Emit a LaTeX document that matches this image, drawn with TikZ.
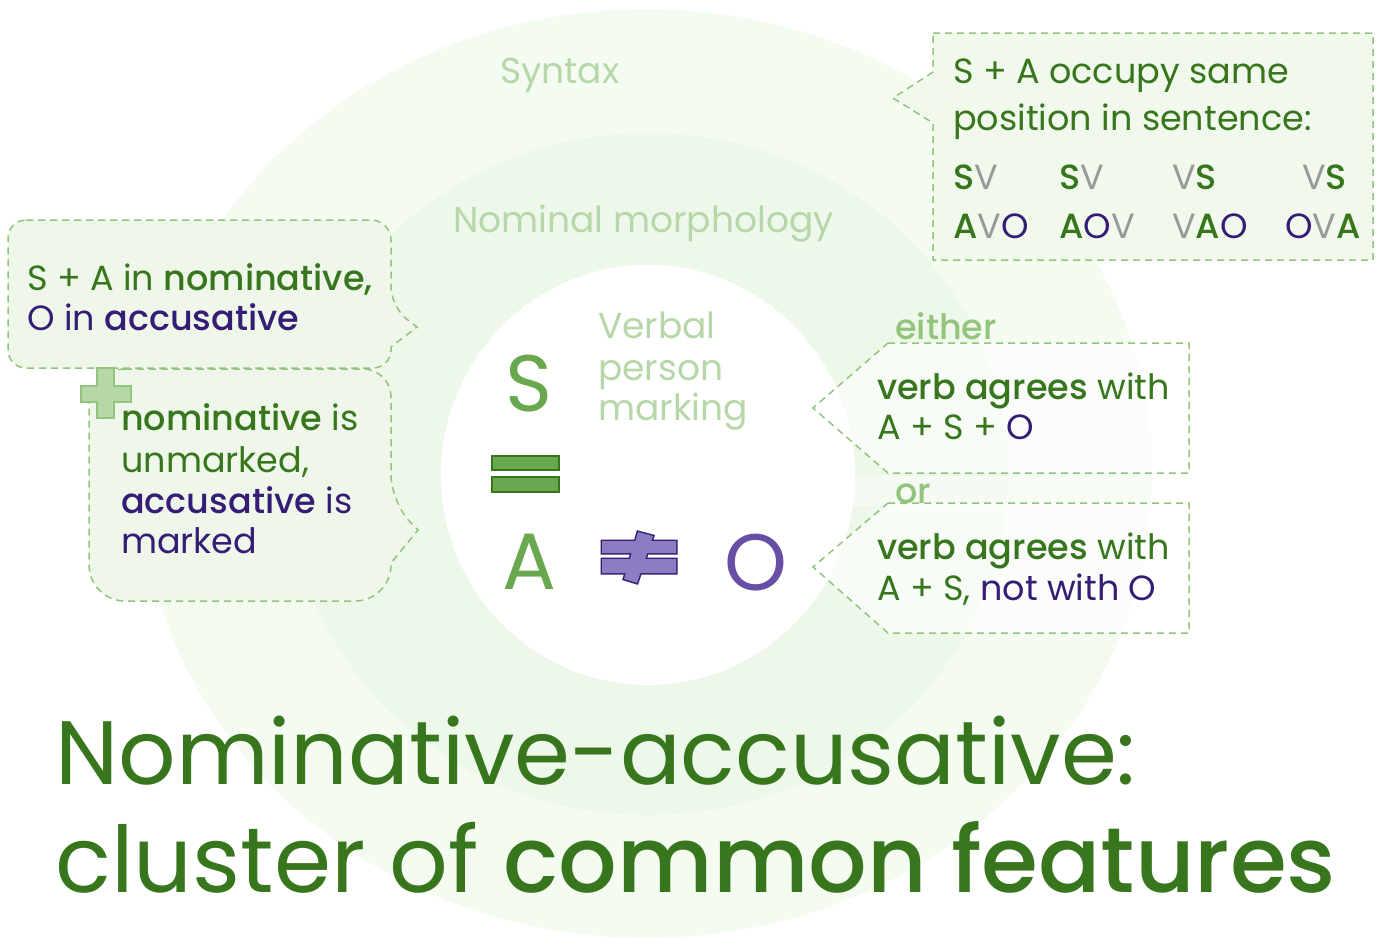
\documentclass[tikz,border=0pt]{standalone}
\usepackage{fontspec}
\setmainfont{Poppins}[BoldFont={* Medium}]
\definecolor{dkgreen}{HTML}{38761D}
\definecolor{purp}{HTML}{351C75}
\definecolor{greyv}{HTML}{999999}
\definecolor{midgreen}{HTML}{6AA84F}
\definecolor{ltgreen}{HTML}{B6D7A8}
\definecolor{dashgreen}{HTML}{93C47D}
\definecolor{opurp}{HTML}{674EA7}
\definecolor{nepurp}{HTML}{8E7CC3}
\definecolor{outerc}{HTML}{F4FBF1}
\definecolor{midc}{HTML}{EEF8EA}
\definecolor{boxfill}{HTML}{EEF7E9}
\definecolor{trfill}{HTML}{F1F9ED}
\begin{document}
\begin{tikzpicture}[x=1pt,y=-1pt,
  txt/.style={anchor=base west, inner sep=0pt, font=\fontsize{35}{41}\selectfont},
  lbl/.style={anchor=base west, inner sep=0pt, font=\fontsize{36}{41}\selectfont, text=ltgreen},
  big/.style={anchor=base, inner sep=0pt, font=\fontsize{80}{80}\selectfont},
  title/.style={anchor=base west, inner sep=0pt, font=\fontsize{90}{108}\selectfont, text=dkgreen},
  boxline/.style={draw=dashgreen, line width=1.5pt, dash pattern=on 7pt off 5pt}]
\useasboundingbox (0,0) rectangle (1378,948);
% background circles
\fill[outerc] (646,473.5) ellipse [x radius=506, y radius=464.5];
\fill[midc] (648,474) ellipse [x radius=360, y radius=341];
\fill[white] (648,475) ellipse [x radius=207, y radius=210];
% sphere labels
\node[lbl] (syntax) at (500,83) {Syntax};
\node[lbl] (nommorph) at (453,232) {Nominal morphology};
\node[lbl] (verbal) at (598,338) {Verbal};
\node[lbl] (person) at (598,380) {person};
\node[lbl] (marking) at (598,420) {marking};
% top-right box
\path[boxline, fill=trfill] (933,33) -- (1373,33) -- (1373,260) -- (933,260) -- (933,123) -- (893,98) -- (933,72) -- cycle;
\node[txt, text=dkgreen] (tr1) at (953,83) {S + A occupy same};
\node[txt, text=dkgreen] (tr2) at (953,130) {position in sentence:};
\node[txt] (c1a) at (953,189) {\textcolor{dkgreen}{\bfseries S}\textcolor{greyv}{V}};
\node[txt] (c2a) at (1059,189) {\textcolor{dkgreen}{\bfseries S}\textcolor{greyv}{V}};
\node[txt] (c3a) at (1172,189) {\textcolor{greyv}{V}\textcolor{dkgreen}{\bfseries S}};
\node[txt] (c4a) at (1302,189) {\textcolor{greyv}{V}\textcolor{dkgreen}{\bfseries S}};
\node[txt] (c1b) at (953,238) {\textcolor{dkgreen}{\bfseries A}\textcolor{greyv}{V}\textcolor{purp}{O}};
\node[txt] (c2b) at (1059,238) {\textcolor{dkgreen}{\bfseries A}\textcolor{purp}{O}\textcolor{greyv}{V}};
\node[txt] (c3b) at (1172,238) {\textcolor{greyv}{V}\textcolor{dkgreen}{\bfseries A}\textcolor{purp}{O}};
\node[txt] (c4b) at (1285,238) {\textcolor{purp}{O}\textcolor{greyv}{V}\textcolor{dkgreen}{\bfseries A}};
% left box 1
\path[boxline, fill=boxfill, rounded corners=20pt] (8,220) -- (391,220) -- (391,307) [sharp corners] -- (417,327) -- (391,347) [rounded corners=18pt] -- (391,368) -- (8,368) -- cycle;
% left box 2
\path[boxline, fill=boxfill, rounded corners=28pt] (89,369) -- (391,369) -- (391,503) [sharp corners] -- (418,530) -- (391,563) [rounded corners=36pt] -- (391,601) -- (89,601) -- cycle;
\node[txt] (l1) at (27,290) {\textcolor{dkgreen}{S + A in \textbf{nominative,}}};
\node[txt] (l2) at (27,330) {\textcolor{purp}{O in \textbf{accusative}}};
\node[txt] (l3) at (121,430) {\textcolor{dkgreen}{\textbf{nominative} is}};
\node[txt] (l4) at (121,472) {\textcolor{dkgreen}{unmarked,}};
\node[txt] (l5) at (121,513) {\textcolor{purp}{\textbf{accusative} is}};
\node[txt] (l6) at (121,553) {\textcolor{purp}{marked}};
% plus sign
\path[fill=ltgreen, draw=dashgreen, line width=1.5pt] (97,368) -- (114,368) -- (114,386) -- (131,386) -- (131,402) -- (114,402) -- (114,418) -- (97,418) -- (97,402) -- (81,402) -- (81,386) -- (97,386) -- cycle;
% centre symbols
\node[big, text=midgreen] (S) at (529,411) {S};
\node[big, text=midgreen] (A) at (529,589) {A};
\node[big, text=opurp] (O) at (756,590) {O};
\path[fill=midgreen, draw=dkgreen, line width=1.2pt] (492,456) rectangle (559,470);
\path[fill=midgreen, draw=dkgreen, line width=1.2pt] (492,477) rectangle (559,492);
\path[draw=purp, line width=3pt] (602,541) rectangle (676,553) (602,559) rectangle (676,573) (638,532) -- (653,536) -- (637,583) -- (624,579) -- cycle;
\path[fill=nepurp] (602,541) rectangle (676,553) (602,559) rectangle (676,573);
\path[fill=nepurp] (638,532) -- (653,536) -- (637,583) -- (624,579) -- cycle;
% right boxes
\fill[white, opacity=0.45] (853,476) rectangle (1153,506);
\path[boxline, fill=white, fill opacity=0.6] (888,343) -- (1189,343) -- (1189,473) -- (888,473) -- (813,408) -- cycle;
\path[boxline, fill=white, fill opacity=0.6] (888,503) -- (1189,503) -- (1189,633) -- (888,633) -- (813,567) -- cycle;
\node[txt, text=dashgreen, font=\fontsize{35}{41}\selectfont\bfseries] (either) at (895,339) {either};
\node[txt, text=dashgreen, font=\fontsize{35}{41}\selectfont\bfseries] (or) at (895,503) {or};
\node[txt] (r1) at (877,399) {\textcolor{dkgreen}{\textbf{verb agrees} with}};
\node[txt] (r2) at (877,439) {\textcolor{dkgreen}{A + S +} \textcolor{purp}{O}};
\node[txt] (r3) at (877,559) {\textcolor{dkgreen}{\textbf{verb agrees} with}};
\node[txt] (r4) at (877,600) {\textcolor{dkgreen}{A + S,} \textcolor{purp}{not with O}};
% title
\node[title] (t1) at (55,784) {Nominative-accusative:};
\node[title, font=\fontsize{92}{108}\selectfont] (t2) at (55,892) {cluster of \textbf{common features}};
\end{tikzpicture}
\end{document}
